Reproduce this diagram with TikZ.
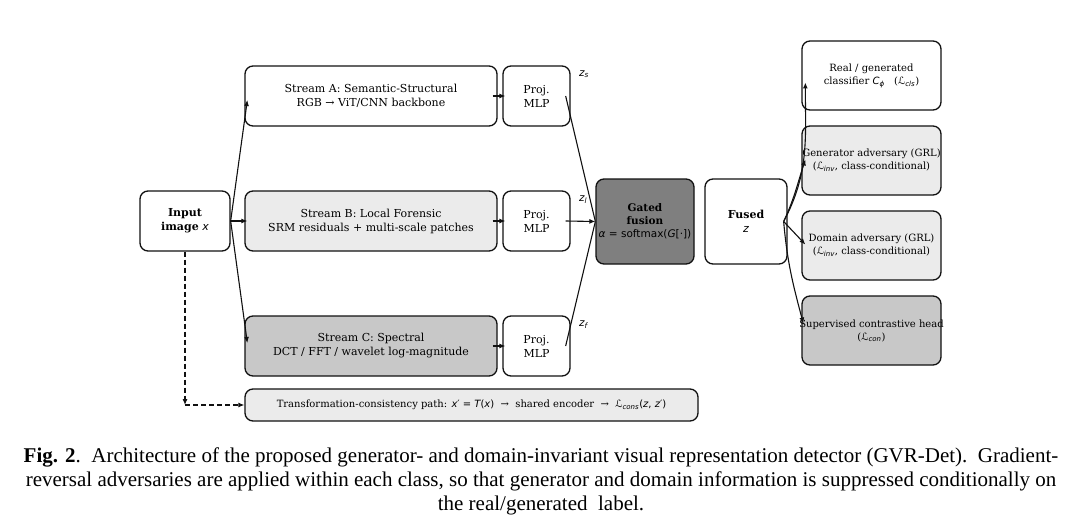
\documentclass[tikz,border=0pt]{standalone}
\usepackage{fontspec}
\usepackage{amsmath}
\usepackage{tikz}
\usetikzlibrary{arrows.meta}
\setmainfont{DejaVu Serif}
\newfontfamily\capfont{Liberation Serif}
\newfontfamily\dvsans{DejaVu Sans}
\newcommand{\vsym}[1]{{\dvsans\itshape #1}}
\newcommand{\vsub}[2]{\vsym{#1}\textsubscript{\vsym{#2}}}
\definecolor{GvrLight}{HTML}{EBEBEB}
\definecolor{GvrMid}{HTML}{C8C8C8}
\definecolor{GvrDark}{HTML}{7F7F7F}
\definecolor{GvrLine}{HTML}{111111}

\begin{document}
\begin{tikzpicture}[x=1pt, y=-1pt,
    box/.style={draw=GvrLine, line width=1.3pt, rounded corners=8pt, align=center,
                inner sep=0pt, font=\fontsize{11}{14}\selectfont, fill=white},
    stream/.style={box, minimum width=252pt, minimum height=60pt},
    proj/.style={box, minimum width=67pt, minimum height=60pt},
    head/.style={box, minimum width=139pt, minimum height=69pt,
                 font=\fontsize{10}{13}\selectfont},
    zlabel/.style={anchor=west, font=\fontsize{10.5}{12}\selectfont},
    arrow/.style={-{Latex[length=6pt,width=5pt]}, line width=1.1pt, draw=GvrLine},
    link/.style={line width=1.1pt, draw=GvrLine},
    dasharrow/.style={arrow, dash pattern=on 5pt off 3pt}
]
\useasboundingbox (0,0) rectangle (1084,532);

\node[box, minimum width=90pt, minimum height=60pt] (input) at (185,221)
    {\textbf{Input}\\\textbf{image} \vsym{x}};
\node[stream] (strA) at (371,96) {Stream A: Semantic-Structural\\RGB → ViT/CNN backbone};
\node[proj] (projA) at (536.5,96) {Proj.\\MLP};
\node[stream, fill=GvrLight] (strB) at (371,221) {Stream B: Local Forensic\\SRM residuals + multi-scale patches};
\node[proj] (projB) at (536.5,221) {Proj.\\MLP};
\node[stream, fill=GvrMid] (strC) at (371,346) {Stream C: Spectral\\DCT / FFT / wavelet log-magnitude};
\node[proj] (projC) at (536.5,346) {Proj.\\MLP};
\node[box, fill=GvrLight, minimum width=453pt, minimum height=32pt,
      font=\fontsize{10}{12}\selectfont] (cons) at (471.5,405)
    {Transformation-consistency path: {\dvsans\vsym{x}′ = \vsym{T}(\vsym{x})} \ → \ shared encoder \ → \ {\dvsans\vsub{ℒ}{cons}(\vsym{z}, \vsym{z}′)}};

\node[zlabel] (zs) at ([xshift=5pt,yshift=-9pt]projA.north east) {\vsub{z}{s}};
\node[zlabel] (zl) at ([xshift=5pt,yshift=-9pt]projB.north east) {\vsub{z}{l}};
\node[zlabel] (zf) at ([xshift=5pt,yshift=-9pt]projC.north east) {\vsub{z}{f}};

\node[box, fill=GvrDark, minimum width=98pt, minimum height=85pt,
      font=\fontsize{10.5}{13}\selectfont] (gate) at (645,221.5)
    {\textbf{Gated}\\\textbf{fusion}\\{\dvsans\vsym{α} = softmax(\vsym{G}[·])}};
\node[box, minimum width=82pt, minimum height=85pt] (fused) at (746,221.5)
    {\textbf{Fused}\\\vsym{z}};

\node[head] (cls) at (871.5,75.5)
    {Real / generated\\classifier \vsub{C}{ϕ} \ \ ({\dvsans\vsub{ℒ}{cls}})};
\node[head, fill=GvrLight] (gen) at (871.5,160.5)
    {\makebox[0pt]{Generator adversary (GRL)}\\({\dvsans\vsub{ℒ}{inv}}, class-conditional)};
\node[head, fill=GvrLight] (dom) at (871.5,245.5)
    {Domain adversary (GRL)\\({\dvsans\vsub{ℒ}{inv}}, class-conditional)};
\node[head, fill=GvrMid] (con) at (871.5,330.5)
    {\makebox[0pt]{Supervised contrastive head}\\({\dvsans\vsub{ℒ}{con}})};

\draw[arrow] (input.east) -- ([xshift=3pt,yshift=-4pt]strA.west);
\draw[arrow] (input.east) -- ([xshift=3pt]strB.west);
\draw[arrow] (input.east) -- ([xshift=3pt,yshift=3pt]strC.west);
\draw[arrow] ([xshift=-5pt]strA.east) -- ([xshift=3pt]projA.west);
\draw[arrow] ([xshift=-5pt]strB.east) -- ([xshift=3pt]projB.west);
\draw[arrow] ([xshift=-5pt]strC.east) -- ([xshift=3pt]projC.west);
\draw[link] ([xshift=-5pt]projA.east) -- (gate.west);
\draw[arrow] ([xshift=-5pt]projB.east) -- (gate.west);
\draw[link] ([xshift=-5pt]projC.east) -- (gate.west);

\draw[arrow] ([xshift=-4pt]fused.east) to[out=62, in=-90] ([xshift=4pt,yshift=-7pt]cls.west);
\draw[arrow] ([xshift=-4pt]fused.east) to[out=65, in=-108] ([xshift=4pt,yshift=1pt]gen.west);
\draw[arrow] ([xshift=-4pt]fused.east) -- ([xshift=4pt,yshift=1pt]dom.west);
\draw[arrow] ([xshift=-4pt]fused.east) to[out=-85, in=105] ([xshift=2pt,yshift=7pt]con.west);

\coordinate (turn) at (input.south |- cons.west);
\draw[dasharrow] (input.south) -- (turn);
\draw[dasharrow] (turn) -- (cons.west);

\node[font=\capfont\fontsize{21}{24}\selectfont, align=center] (caption) at (541,481)
    {\textbf{Fig. 2}.\ \ Architecture of the proposed generator- and domain-invariant visual representation detector (GVR-Det).\ \ Gradient-\\
     reversal adversaries are applied within each class, so that generator and domain information is suppressed conditionally on\\
     the real/generated\ \ label.};
\end{tikzpicture}
\end{document}
